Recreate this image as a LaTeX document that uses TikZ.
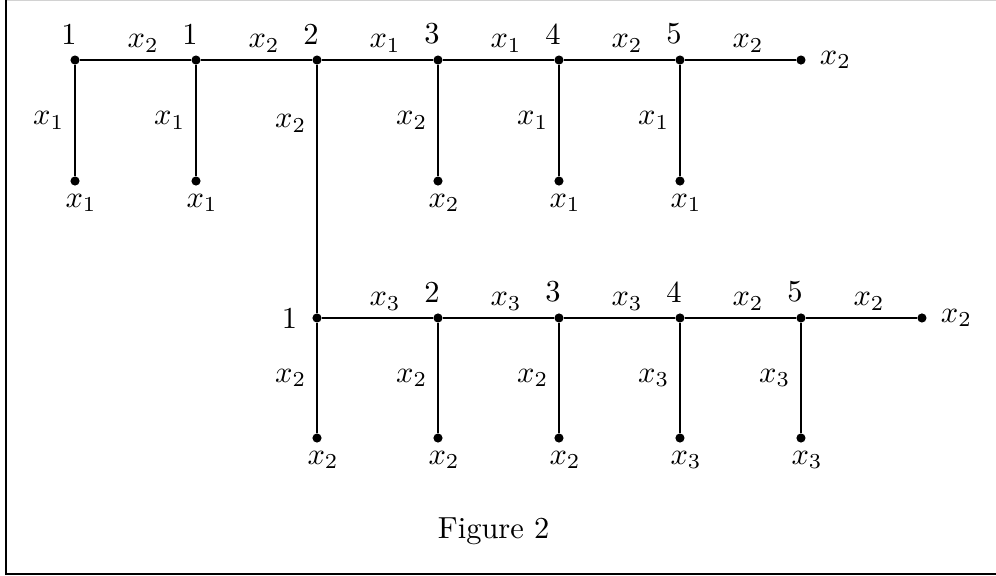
\documentclass[tikz,border=0pt]{standalone}
\usetikzlibrary{positioning}
\tikzset{
  dot/.style={circle, fill, inner sep=0pt, minimum size=3pt},
  hlbl/.style={above, xshift=2.5pt, inner sep=2.3pt},
  vlbl/.style={left},
}

\begin{document}
\begin{tikzpicture}[x=1.395cm, y=1.395cm]
    \useasboundingbox (-0.620,0.496) rectangle (7.612,-4.264);

    % Frame (cut off at the top and right)
    \draw[gray!35] (-0.570,0.492) -- (7.612,0.492);
    \draw[line width=0.7pt] (-0.570,0.492) -- (-0.570,-4.248) -- (7.612,-4.248);

    % Row heights
    \def\rowA{0}
    \def\rowB{-2.132}

    % Upper row: numbered dots, end dot and leaves
    \foreach \i/\num in {0/1,1/1,2/2,3/3,4/4,5/5}
        \node[dot, label={[xshift=-2pt]above:\num}] (t\i) at (\i,\rowA) {};
    \node[dot, label={[label distance=1pt]right:$x_2$}] (te) at (6,\rowA) {};
    \foreach \i/\xs in {0/1,1/1,3/2,4/1,5/1}
        \node[dot, label={[xshift=2pt, label distance=-1pt]below:$x_\xs$}] (tl\i) at (\i,\rowA-1) {};

    % Upper row: edges
    \foreach \a/\b/\xs in {t0/t1/2, t1/t2/2, t2/t3/1, t3/t4/1, t4/t5/2, t5/te/2}
        \draw (\a) -- node[hlbl] {$x_\xs$} (\b);
    \foreach \i/\xs in {0/1,1/1,3/2,4/1,5/1}
        \draw (t\i) -- node[vlbl] {$x_\xs$} (tl\i);

    % Lower row: numbered dots, end dot and leaves
    \node[dot, label={[label distance=1.3pt]left:1}] (b0) at (2,\rowB) {};
    \foreach \i/\num in {1/2,2/3,3/4,4/5}
        \node[dot, label={[xshift=-2pt]above:\num}] (b\i) at (\i+2,\rowB) {};
    \node[dot, label={[label distance=1pt]right:$x_2$}] (be) at (7,\rowB) {};
    \foreach \i/\xs in {0/2,1/2,2/2,3/3,4/3}
        \node[dot, label={[xshift=2pt, label distance=-1pt]below:$x_\xs$}] (bl\i) at (\i+2,\rowB-0.992) {};

    % Lower row: edges
    \foreach \a/\b/\xs in {b0/b1/3, b1/b2/3, b2/b3/3, b3/b4/2, b4/be/2}
        \draw (\a) -- node[hlbl] {$x_\xs$} (\b);
    \foreach \i/\xs in {0/2,1/2,2/2,3/3,4/3}
        \draw (b\i) -- node[vlbl] {$x_\xs$} (bl\i);

    % Link between the rows
    \draw (t2) -- node[vlbl, pos=0.235] {$x_2$} (b0);

    % Caption
    \node (caption) at (3.46,-3.893) {Figure 2};
\end{tikzpicture}
\end{document}
